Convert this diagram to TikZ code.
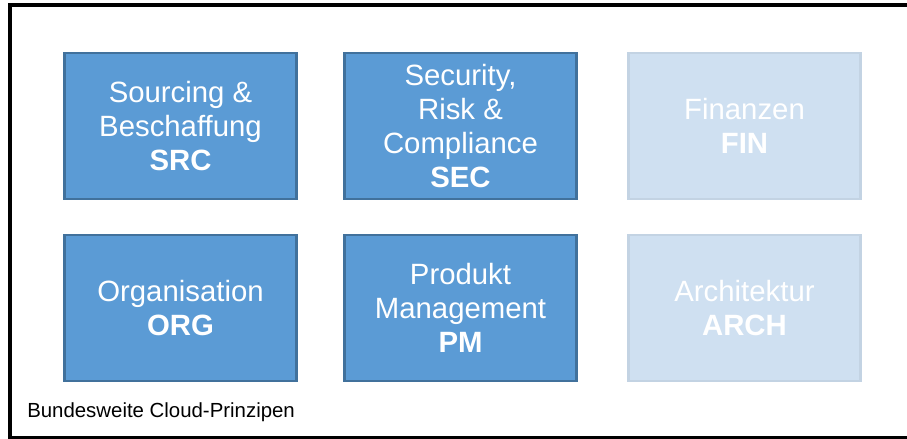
\documentclass[tikz,border=0pt]{standalone}
\usepackage{fontspec}
\setmainfont{Liberation Sans}
\usetikzlibrary{positioning}

\definecolor{boxblue}{HTML}{5B9BD5}
\definecolor{boxedge}{HTML}{41719C}
\definecolor{paleblue}{HTML}{CFE0F1}
\definecolor{paleedge}{HTML}{C3D3E3}

\begin{document}
\begin{tikzpicture}
		[x=0.75pt,y=-0.75pt,
		node distance=27pt and 36pt,
		active/.style={rectangle,draw=boxedge,fill=boxblue,line width=2.2pt,outer sep=0pt,
			minimum width=174pt,minimum height=109.5pt,align=center,text=white,
			font=\fontsize{22}{25.5}\selectfont},
		inactive/.style={active,draw=paleedge,fill=paleblue},
		caption/.style={anchor=west,inner sep=0pt,font=\fontsize{15.3}{18}\selectfont}]
		\useasboundingbox (0,0) rectangle (907,439);
		% frame
		\draw [line width=3pt] (912,4.5) -- (10,4.5) -- (10,437.5) -- (912,437.5);

		\node [active] (src) at (180.5,126) {Sourcing \&\\Beschaffung\\\textbf{SRC}};
		\node [active] (sec) [right=of src]{Security,\\Risk \&\\Compliance\\\textbf{SEC}};
		\node [inactive] (fin) [right=39pt of sec]{Finanzen\\\textbf{FIN}};

		\node [active] (org) [below=of src]{Organisation\\\textbf{ORG}};
		\node [active] (pm) [right=of org]{Produkt\\Management\\\textbf{PM}};
		\node [inactive] (arch) [right=39pt of pm]{Architektur\\\textbf{ARCH}};

		\node [caption] (title) at (27,412) {Bundesweite Cloud-Prinzipen};

	\end{tikzpicture}
\end{document}
